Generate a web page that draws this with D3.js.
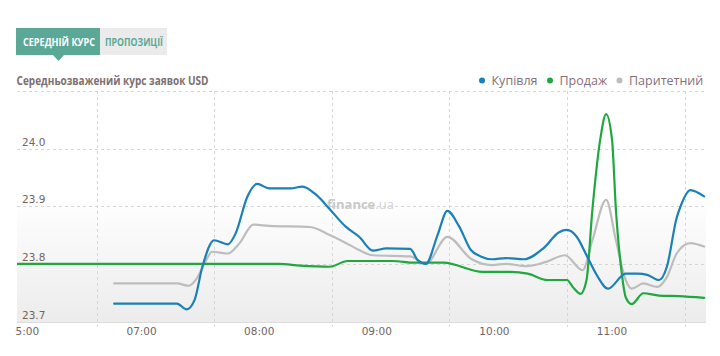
<!DOCTYPE html>
<html><head><meta charset="utf-8">
<script src="https://cdn.jsdelivr.net/npm/d3@7"></script>
<style>
html,body{margin:0;padding:0;background:#fff;}
svg{display:block;}
</style></head>
<body>
<svg id="chart" width="720" height="356"></svg>
<script>
// ---------- data ----------
const buyTimes  = ["06:46","07:18","07:23","07:27","07:31","07:37","07:44","07:48","07:54","07:59","08:05","08:16","08:22","08:29","08:36","08:44","08:51","08:58","09:05","09:17","09:21","09:25","09:31","09:36","09:42","09:48","09:53","09:59","10:06","10:15","10:25","10:33","10:37","10:42","10:47","10:52","10:58","11:07","11:13","11:18","11:24","11:28","11:33","11:35","11:40","11:47"];
const buyValues = [23.731,23.731,23.721,23.737,23.795,23.841,23.834,23.853,23.917,23.939,23.931,23.931,23.934,23.920,23.895,23.865,23.847,23.823,23.827,23.826,23.806,23.800,23.850,23.892,23.865,23.824,23.813,23.808,23.810,23.808,23.827,23.855,23.859,23.847,23.815,23.782,23.757,23.783,23.783,23.781,23.772,23.795,23.880,23.900,23.928,23.917];

const sellTimes  = ["05:56","08:10","08:21","08:36","08:45","09:08","09:19","09:34","09:54","10:08","10:17","10:27","10:37","10:40","10:44","10:47","10:50","10:54","10:57","11:00","11:02","11:05","11:07","11:10","11:16","11:24","11:34","11:47"];
const sellValues = [23.800,23.800,23.797,23.795,23.805,23.805,23.802,23.802,23.786,23.786,23.783,23.772,23.772,23.760,23.748,23.772,23.894,24.016,24.060,24.016,23.894,23.783,23.742,23.730,23.749,23.745,23.744,23.741];

const parTimes  = ["06:46","07:18","07:24","07:28","07:32","07:36","07:44","07:50","07:57","08:05","08:26","08:36","08:46","08:51","08:58","09:17","09:25","09:36","09:48","09:59","10:06","10:16","10:26","10:36","10:45","10:50","10:57","11:02","11:07","11:10","11:16","11:23","11:28","11:33","11:40","11:47"];
const parValues = [23.766,23.766,23.762,23.774,23.800,23.821,23.818,23.836,23.868,23.866,23.864,23.850,23.833,23.824,23.815,23.813,23.800,23.847,23.809,23.798,23.800,23.796,23.803,23.815,23.789,23.841,23.911,23.841,23.772,23.757,23.766,23.760,23.777,23.818,23.836,23.830];

const seriesNames  = ["Купівля","Продаж","Паритетний"];
const seriesColors = ["#1a80b6","#1fa83f","#bdbdbd"];

const yTicks = [23.7, 23.8, 23.9, 24.0];
const yTickLabels = ["23.7","23.8","23.9","24.0"];
const xTickTimes = ["06:00","07:00","08:00","09:00","10:00","11:00"];
const xTickLabels = ["05:00","07:00","08:00","09:00","10:00","11:00"];
const gridTimes = ["06:37","07:37","08:37","09:37","10:37","11:37"];

const tabLabels = ["СЕРЕДНІЙ КУРС","ПРОПОЗИЦІЇ"];
const title = "Середньозважений курс заявок USD";

// ---------- layout ----------
const svg = d3.select("#chart");
const parse = d3.timeParse("%H:%M");
const plotL = 17, plotR = 706, plotT = 91, plotB = 322;

const x = d3.scaleTime().domain([parse("06:00"), parse("12:00")]).range([24, 24 + 6*117.6]);
const y = d3.scaleLinear().domain([23.7, 24.1]).range([321.5, 91]);

const defs = svg.append("defs");
const grad = defs.append("linearGradient").attr("id","bg").attr("x1",0).attr("y1",0).attr("x2",0).attr("y2",1);
grad.append("stop").attr("offset","0%").attr("stop-color","#ffffff");
grad.append("stop").attr("offset","100%").attr("stop-color","#ececec");
defs.append("clipPath").attr("id","plotclip").append("rect")
  .attr("x",plotL).attr("y",plotT-20).attr("width",plotR-plotL).attr("height",plotB-plotT+40);
defs.append("clipPath").attr("id","xlabclip").append("rect")
  .attr("x",15).attr("y",320).attr("width",700).attr("height",30);

// tabs
const tabs = svg.append("g");
tabs.append("rect").attr("x",16).attr("y",28).attr("width",84).attr("height",27).attr("fill","#5ba897");
tabs.append("path").attr("d","M53,55 L58.5,61 L64,55 Z").attr("fill","#5ba897");
tabs.append("rect").attr("x",100).attr("y",28).attr("width",67).attr("height",27).attr("fill","#ebebeb");
tabs.append("text").attr("x",23).attr("y",45.5).attr("textLength",72).attr("lengthAdjust","spacingAndGlyphs")
  .attr("font-family","Open Sans").attr("font-weight","bold").attr("font-size",11).attr("fill","#fff").text(tabLabels[0]);
tabs.append("text").attr("x",105).attr("y",45.5).attr("textLength",58).attr("lengthAdjust","spacingAndGlyphs")
  .attr("font-family","Open Sans").attr("font-weight","bold").attr("font-size",11).attr("fill","#5ba897").text(tabLabels[1]);

// title
svg.append("text").attr("x",16.5).attr("y",85).attr("textLength",192).attr("lengthAdjust","spacingAndGlyphs")
  .attr("font-family","Open Sans").attr("font-weight","bold").attr("font-size",13).attr("fill","#7d7070").text(title);

// legend
const legX = [482, 550, 619.5];
const leg = svg.append("g").attr("font-family","Open Sans").attr("font-size",12.5);
seriesNames.forEach((n,i)=>{
  leg.append("circle").attr("cx",legX[i]).attr("cy",80.5).attr("r",3).attr("fill",seriesColors[i]);
  leg.append("text").attr("x",legX[i]+9.5).attr("y",85).attr("fill","#85707a").text(n);
});

// background
svg.append("rect").attr("x",plotL).attr("y",y(23.9)-10).attr("width",plotR-plotL).attr("height",plotB-(y(23.9)-10)).attr("fill","url(#bg)");

// grid
const grid = svg.append("g").attr("stroke","#d6d6d6").attr("stroke-dasharray","3,3").attr("stroke-width",1);
[...yTicks.slice(1), 24.1].forEach(v=>{
  grid.append("line").attr("x1",plotL).attr("x2",plotR).attr("y1",Math.round(y(v))+0.5).attr("y2",Math.round(y(v))+0.5);
});
gridTimes.forEach(t=>{
  const gx = Math.round(x(parse(t)))+0.5;
  grid.append("line").attr("x1",gx).attr("x2",gx).attr("y1",plotT).attr("y2",327);
});
svg.append("line").attr("x1",plotL).attr("x2",plotR).attr("y1",322.5).attr("y2",322.5).attr("stroke","#dcdcdc");

// y labels
const ylab = svg.append("g").attr("font-family","DejaVu Sans").attr("font-size",10.5).attr("fill","#6f6565");
yTicks.forEach((v,i)=>{
  ylab.append("text").attr("x",22).attr("y",y(v)-3).text(yTickLabels[i]);
});
// x labels
const xlab = svg.append("g").attr("clip-path","url(#xlabclip)").attr("font-family","DejaVu Sans").attr("font-size",10.5).attr("fill","#6f6565").attr("text-anchor","middle");
xTickTimes.forEach((t,i)=>{
  xlab.append("text").attr("x",x(parse(t))).attr("y",335).text(xTickLabels[i]);
});

// watermark
const wm = svg.append("text").attr("x",327).attr("y",209).attr("font-family","Open Sans").attr("font-size",13);
wm.append("tspan").attr("font-weight","bold").attr("fill","#c9c9c9").text("finance");
wm.append("tspan").attr("fill","#d2d2d2").text(".ua");

// lines
const line = d3.line().x(d=>x(d[0])).y(d=>y(d[1])).curve(d3.curveMonotoneX);
const series = [
  {t:parTimes, v:parValues, c:seriesColors[2]},
  {t:sellTimes, v:sellValues, c:seriesColors[1]},
  {t:buyTimes, v:buyValues, c:seriesColors[0]}
];
const lines = svg.append("g").attr("clip-path","url(#plotclip)");
series.forEach(s=>{
  const data = s.t.map((tt,i)=>[parse(tt), s.v[i]]);
  lines.append("path").attr("d",line(data)).attr("fill","none").attr("stroke",s.c).attr("stroke-width",2.2)
    .attr("stroke-linejoin","round").attr("stroke-linecap","round");
});
</script>
</body></html>
